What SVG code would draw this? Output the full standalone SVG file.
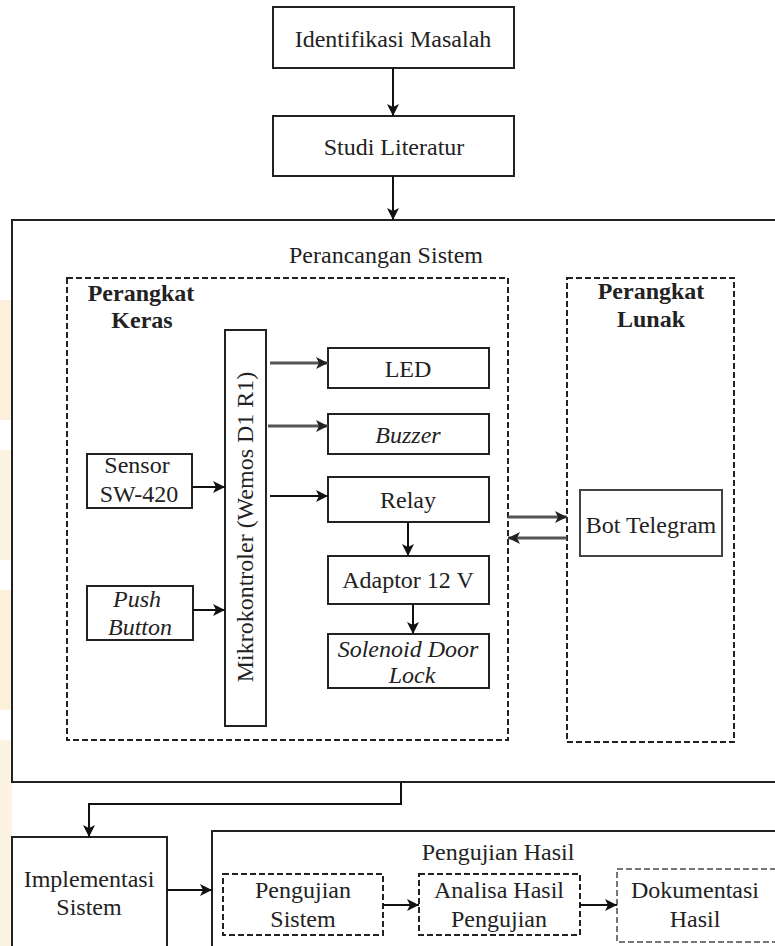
<svg xmlns="http://www.w3.org/2000/svg" width="775" height="946" viewBox="0 0 775 946">
<defs>
<marker id="ah" viewBox="0 0 12 12" refX="12" refY="6" markerWidth="12" markerHeight="12" markerUnits="userSpaceOnUse" orient="auto">
<path d="M0,0 L12,6 L0,12 L3,6 Z" fill="#111"/>
</marker>
<marker id="ahg" viewBox="0 0 12 12" refX="12" refY="6" markerWidth="12" markerHeight="12" markerUnits="userSpaceOnUse" orient="auto">
<path d="M0,0 L12,6 L0,12 L3,6 Z" fill="#222"/>
</marker>
</defs>
<style>
text{font-family:'Liberation Serif','DejaVu Serif',serif;font-size:24px;fill:#222;text-anchor:middle}
.b{font-weight:bold}
.i{font-style:italic}
.box{fill:#fff;stroke:#222;stroke-width:2}
.dash{fill:none;stroke:#222;stroke-width:2;stroke-dasharray:6 3}
.dashg{fill:none;stroke:#777;stroke-width:2;stroke-dasharray:6 3}
.ln{fill:none;stroke:#111;stroke-width:2;marker-end:url(#ah)}
.lg{fill:none;stroke:#555;stroke-width:3;marker-end:url(#ahg)}
</style>
<rect x="0" y="0" width="775" height="946" fill="#fff"/>
<g id="bg-watermark" opacity="0.5">
<rect x="0" y="300" width="12" height="120" fill="#fbe2bd"/>
<rect x="0" y="450" width="12" height="110" fill="#fce8c8"/>
<rect x="0" y="590" width="12" height="120" fill="#fbe2bd"/>
<rect x="0" y="740" width="12" height="206" fill="#fce8c8"/>
</g>
<g font-family="'Liberation Serif', 'DejaVu Serif', serif">
<g id="identifikasi"><rect class="box" x="273" y="7" width="241" height="61"/><text x="393" y="47">Identifikasi Masalah</text></g>
<g id="studi"><rect class="box" x="273" y="116" width="241" height="60"/><text x="394" y="155">Studi Literatur</text></g>

<g id="perancangan"><rect class="box" x="12" y="220" width="780" height="562"/><text x="386" y="263">Perancangan Sistem</text></g>
<g id="keras"><rect class="dash" x="67" y="278" width="441" height="462"/><text class="b" x="141" y="301">Perangkat</text><text class="b" x="142" y="328">Keras</text></g>
<g id="lunak"><rect class="dash" x="567" y="278" width="167" height="464"/><text class="b" x="651" y="299">Perangkat</text><text class="b" x="651" y="327">Lunak</text></g>

<g id="mikro"><rect class="box" x="225" y="330" width="41" height="396"/><text transform="translate(253,527) rotate(-90)">Mikrokontroler (Wemos D1 R1)</text></g>
<g id="led"><rect class="box" x="328" y="348" width="161" height="40"/><text x="408" y="377">LED</text></g>
<g id="buzzer"><rect class="box" x="328" y="414" width="161" height="40"/><text class="i" x="408" y="443">Buzzer</text></g>
<g id="relay"><rect class="box" x="328" y="477" width="161" height="45"/><text x="408" y="508">Relay</text></g>
<g id="adaptor"><rect class="box" x="328" y="556" width="161" height="48"/><text x="408" y="588">Adaptor 12 V</text></g>
<g id="solenoid"><rect class="box" x="328" y="634" width="161" height="54"/><text class="i" x="408" y="657">Solenoid Door</text><text class="i" x="412" y="683">Lock</text></g>
<g id="sensor"><rect class="box" x="87" y="454" width="105" height="54"/><text x="137" y="473">Sensor</text><text x="139" y="502">SW-420</text></g>
<g id="push"><rect class="box" x="87" y="586" width="106" height="54"/><text class="i" x="137" y="607">Push</text><text class="i" x="140" y="635">Button</text></g>
<g id="bot"><rect class="box" x="580" y="490" width="142" height="66" style="stroke:#444"/><text x="651" y="533">Bot Telegram</text></g>

<g id="implementasi"><rect class="box" x="12" y="837" width="155" height="130"/><text x="89" y="887">Implementasi</text><text x="89" y="915">Sistem</text></g>
<g id="pengujian-hasil"><rect class="box" x="212" y="831" width="580" height="140"/><text x="498" y="860">Pengujian Hasil</text></g>
<g id="pengujian-sistem"><rect class="dash" x="223" y="874" width="160" height="61"/><text x="303" y="898">Pengujian</text><text x="303" y="927">Sistem</text></g>
<g id="analisa"><rect class="dash" x="419" y="874" width="161" height="61"/><text x="499" y="898">Analisa Hasil</text><text x="499" y="927">Pengujian</text></g>
<g id="dokumentasi"><rect class="dashg" x="617" y="869" width="170" height="73"/><text x="695" y="898">Dokumentasi</text><text x="695" y="927">Hasil</text></g>
</g>
<g id="connectors">
<path class="ln" d="M393,68 V116"/>
<path class="ln" d="M393,176 V220"/>
<path class="ln" d="M192,487 H225"/>
<path class="ln" d="M193,610 H225"/>
<path class="lg" d="M270,363 H328"/>
<path class="lg" d="M268,426 H328"/>
<path class="ln" d="M270,496 H328"/>
<path class="ln" d="M408,522 V556"/>
<path class="ln" d="M413,604 V634"/>
<path class="lg" d="M508,517 H567"/>
<path class="lg" d="M567,538 H508"/>
<path class="ln" d="M401,782 V804 H89 V837"/>
<path class="ln" d="M167,890 H212"/>
<path class="ln" d="M383,905 H419"/>
<path class="ln" d="M580,905 H617"/>
</g>
</svg>
